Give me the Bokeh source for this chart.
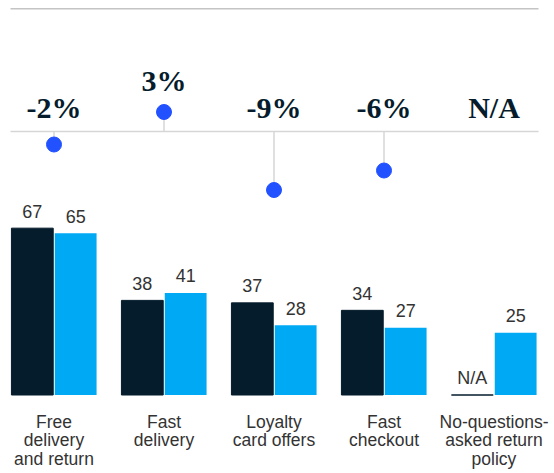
from bokeh.plotting import figure
from bokeh.models import Range1d
from bokeh.core.properties import value
from bokeh.embed import file_html
from bokeh.resources import INLINE

# ---- data ----
categories = ["Free\ndelivery\nand return", "Fast\ndelivery", "Loyalty\ncard offers",
              "Fast\ncheckout", "No-questions-\nasked return\npolicy"]
series_a = [67, 38, 37, 34, None]      # dark bars
series_b = [65, 41, 28, 27, 25]        # light blue bars
pct_change = [-2, 3, -9, -6, None]
pct_labels = ["-2%", "3%", "-9%", "-6%", "N/A"]

DARK = "#051c2c"
BLUE = "#00a9f4"
DOT = "#2251ff"
TXT = "#333333"

PX_PER_UNIT = 2.49
PX_PER_PCT = 6.5
W, H = 552, 472
X0 = 53.5          # px of first group centre
GROUP = 110.0      # px between groups
BASE_BAR = 394.5   # px from top of bar baseline
BASE_PCT = 131.0   # px from top of change baseline

p = figure(width=W, height=H, output_backend="svg", toolbar_location=None,
           x_axis_type=None, y_axis_type=None, min_border=0,
           x_range=Range1d(-X0 / GROUP, (W - X0) / GROUP),
           y_range=Range1d(-(H - BASE_BAR) / PX_PER_UNIT, BASE_BAR / PX_PER_UNIT))
p.extra_y_ranges = {"pct": Range1d(-(H - BASE_PCT) / PX_PER_PCT, BASE_PCT / PX_PER_PCT)}
p.outline_line_color = None
p.xgrid.visible = False
p.ygrid.visible = False
p.background_fill_color = "white"
p.border_fill_color = "white"

idx = list(range(len(categories)))
off = 0.197
bw = 0.38

# ---- top section: change lollipops ----
x_left, x_right = (10 - X0) / GROUP, (538 - X0) / GROUP
top_y = (BASE_PCT - 8.3) / PX_PER_PCT
p.segment(x0=[x_left], x1=[x_right], y0=[top_y], y1=[top_y], y_range_name="pct",
          line_color="#c4c4c4", line_width=1.5)
p.segment(x0=[x_left], x1=[x_right], y0=[0], y1=[0], y_range_name="pct",
          line_color="#d6d6d6", line_width=1.5)

px = [i for i, v in zip(idx, pct_change) if v is not None]
pv = [v for v in pct_change if v is not None]
p.segment(x0=px, x1=px, y0=[0] * len(pv), y1=pv, y_range_name="pct",
          line_color="#d6d6d6", line_width=1.5)
p.scatter(x=px, y=pv, y_range_name="pct", size=15, fill_color=DOT, line_color=DOT)

lab_y = [(max(v, 0) + (7.5 / PX_PER_PCT if v > 0 else 0)) if v is not None else 0 for v in pct_change]
p.text(x=idx, y=lab_y, text=pct_labels, y_range_name="pct", y_offset=-24,
       text_align="center", text_baseline="alphabetic",
       text_font=value("Liberation Serif"), text_font_style="bold",
       text_font_size="30px", text_color=DARK)

# ---- bars ----
xa = [i - off for i in idx]
xb = [i + off for i in idx]
a_top = [v if v is not None else 0 for v in series_a]
p.vbar(x=xa, top=a_top, bottom=0, width=bw, fill_color=DARK, line_color=DARK, line_width=1)
p.vbar(x=xb, top=series_b, bottom=0, width=bw, fill_color=BLUE, line_color=None)

a_lab = [str(v) if v is not None else "N/A" for v in series_a]
p.text(x=xa, y=a_top, text=a_lab, y_offset=-17, text_align="center", text_baseline="alphabetic",
       text_font=value("Liberation Sans"), text_font_size="18px", text_color=TXT)
p.text(x=xb, y=series_b, text=[str(v) for v in series_b], y_offset=-17, text_align="center",
       text_baseline="alphabetic",
       text_font=value("Liberation Sans"), text_font_size="18px", text_color=TXT)

# ---- category labels ----
p.text(x=idx, y=[0] * len(idx), text=categories, y_offset=17, text_align="center",
       text_baseline="top", text_line_height=0.92,
       text_font=value("Liberation Sans"), text_font_size="17.5px", text_color=TXT)

open("out.html", "w").write(file_html(p, INLINE))
